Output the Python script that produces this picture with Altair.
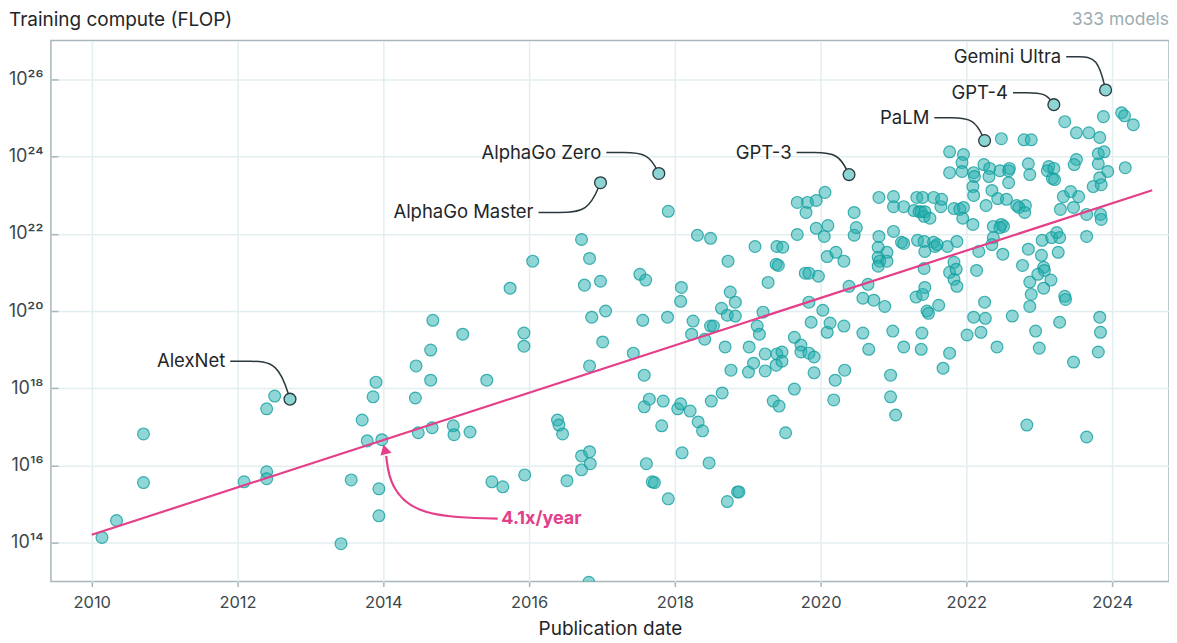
import math
import altair as alt
import pandas as pd

# ---------------- data ----------------
pub_year = [
    2010.14, 2010.34, 2010.71, 2010.71, 2012.09, 2012.40, 2012.40, 2012.40, 2012.51,
    2013.42, 2013.56, 2013.71, 2013.78, 2013.86, 2013.90, 2013.94, 2013.94, 2013.98,
    2014.45, 2014.44, 2014.48, 2014.65, 2014.65, 2014.67, 2014.68, 2014.96, 2014.97,
    2015.09, 2015.19, 2015.42, 2015.49, 2015.64, 2015.74, 2015.93, 2015.93, 2015.94,
    2016.05, 2016.39, 2016.41, 2016.46, 2016.52, 2016.72, 2016.72, 2016.72, 2016.76,
    2016.83, 2016.83, 2016.83, 2016.84, 2016.86, 2016.82, 2016.98, 2017.01, 2017.05,
    2017.43, 2017.52, 2017.56, 2017.58, 2017.58, 2017.60, 2017.61, 2017.65, 2017.69,
    2017.72, 2017.82, 2017.84, 2017.90, 2017.91, 2017.91, 2018.04, 2018.08, 2018.08,
    2018.09, 2018.10, 2018.21, 2018.23, 2018.25, 2018.31, 2018.32, 2018.38, 2018.41,
    2018.47, 2018.49, 2018.49, 2018.50, 2018.53, 2018.64, 2018.65, 2018.69, 2018.72,
    2018.72, 2018.73, 2018.76, 2018.77, 2018.83, 2018.83, 2018.86, 2018.88, 2019.01,
    2019.02, 2019.08, 2019.10, 2019.13, 2019.16, 2019.21, 2019.24, 2019.24, 2019.28,
    2019.35, 2019.39, 2019.39, 2019.40, 2019.40, 2019.43, 2019.48, 2019.42, 2019.47,
    2019.47, 2019.52, 2019.64, 2019.64, 2019.68, 2019.68, 2019.73, 2019.73, 2019.79,
    2019.82, 2019.80, 2019.84, 2019.84, 2019.84, 2019.87, 2019.91, 2019.91, 2019.94,
    2019.94, 2019.97, 2020.03, 2020.05, 2020.06, 2020.09, 2020.09, 2020.10, 2020.13,
    2020.18, 2020.20, 2020.21, 2020.32, 2020.32, 2020.33, 2020.39, 2020.46, 2020.46,
    2020.49, 2020.58, 2020.58, 2020.65, 2020.66, 2020.73, 2020.79, 2020.79, 2020.81,
    2020.79, 2020.80, 2020.80, 2020.88, 2020.91, 2020.91, 2020.96, 2020.96, 2020.99,
    2021.00, 2021.00, 2021.00, 2021.03, 2021.11, 2021.14, 2021.14, 2021.14, 2021.28,
    2021.31, 2021.32, 2021.33, 2021.35, 2021.38, 2021.38, 2021.39, 2021.40, 2021.40,
    2021.42, 2021.42, 2021.42, 2021.43, 2021.43, 2021.43, 2021.46, 2021.48, 2021.50,
    2021.55, 2021.55, 2021.57, 2021.62, 2021.65, 2021.68, 2021.74, 2021.77, 2021.77,
    2021.83, 2021.83, 2021.87, 2021.87, 2021.77, 2021.96, 2021.94, 2021.77, 2021.94,
    2022.10, 2022.11, 2022.24, 2022.32, 2022.31, 2022.46, 2022.48, 2022.58, 2022.59,
    2022.58, 2022.79, 2022.89, 2022.85, 2022.87, 2023.13, 2023.11, 2023.20, 2023.18,
    2023.21, 2023.35, 2023.51, 2023.68, 2023.83, 2023.88, 2024.13, 2024.17, 2024.29,
    2023.51, 2023.48, 2023.81, 2023.89, 2023.81, 2023.94, 2024.18, 2023.83, 2023.74,
    2023.85, 2022.09, 2022.10, 2022.35, 2022.43, 2022.55, 2022.27, 2022.69, 2022.81,
    2022.72, 2022.80, 2021.66, 2021.91, 2021.96, 2021.95, 2022.09, 2023.33, 2023.43,
    2023.54, 2023.29, 2023.47, 2023.65, 2023.84, 2023.85, 2022.37, 2022.48, 2022.51,
    2022.46, 2022.37, 2022.35, 2021.60, 2022.17, 2022.50, 2022.85, 2023.04, 2023.17,
    2023.24, 2023.28, 2023.26, 2023.03, 2023.65, 2022.77, 2023.06, 2023.07, 2022.98,
    2023.16, 2022.87, 2023.06, 2021.83, 2021.86, 2022.14, 2022.89, 2023.35, 2023.36,
    2022.25, 2022.87, 2022.10, 2022.26, 2022.63, 2022.01, 2022.20, 2022.42, 2023.28,
    2022.95, 2023.00, 2023.47, 2023.83, 2023.84, 2023.81, 2022.83, 2023.65,
]
log10_flop = [
    14.14, 14.58, 16.82, 15.56, 15.58, 15.84, 15.66, 17.47, 17.80,
    13.98, 15.63, 17.18, 16.64, 17.78, 18.16, 15.40, 14.70, 16.67,
    18.58, 17.75, 16.85, 18.99, 18.21, 16.98, 19.76, 17.03, 16.80,
    19.40, 16.87, 18.21, 15.58, 15.45, 20.59, 19.43, 19.09, 15.76,
    21.29, 17.18, 17.05, 16.82, 15.61, 21.85, 16.25, 15.89, 20.67,
    21.36, 18.58, 16.36, 16.05, 19.84, 12.98, 20.77, 19.20, 20.00,
    18.91, 20.95, 19.76, 18.34, 17.52, 20.80, 16.05, 17.72, 15.58,
    15.56, 17.03, 17.67, 19.84, 22.58, 15.14, 17.47, 17.60, 20.25,
    20.61, 16.33, 17.41, 19.40, 19.74, 21.96, 17.13, 16.90, 19.27,
    16.07, 19.61, 21.88, 17.67, 19.61, 20.07, 17.88, 19.07, 19.89,
    15.07, 21.29, 20.49, 18.47, 20.23, 19.87, 15.32, 15.32, 18.42,
    19.07, 18.65, 21.67, 19.61, 19.40, 19.97, 18.89, 18.45, 20.74,
    17.67, 21.21, 18.60, 21.67, 18.89, 17.54, 21.65, 21.18, 18.94,
    18.70, 16.85, 19.32, 17.98, 22.81, 21.98, 19.12, 18.94, 20.98,
    22.81, 22.55, 20.98, 20.23, 18.91, 19.71, 18.81, 18.40, 22.86,
    22.14, 20.90, 20.02, 21.93, 23.07, 21.41, 19.45, 22.21, 19.69,
    17.70, 18.21, 21.52, 21.29, 19.61, 18.47, 20.64, 22.55, 21.96,
    22.16, 20.33, 19.43, 20.69, 19.01, 20.28, 21.65, 21.39, 21.29,
    21.16, 21.93, 22.94, 20.12, 21.52, 21.29, 18.34, 17.78, 19.48,
    22.96, 22.70, 22.06, 17.31, 21.78, 21.75, 22.70, 19.07, 22.60,
    20.36, 22.94, 21.83, 22.57, 22.57, 19.01, 19.43, 22.94, 20.43,
    22.45, 21.80, 21.10, 22.57, 21.54, 20.61, 20.00, 19.94, 22.40,
    22.94, 21.78, 21.67, 20.15, 22.70, 18.52, 21.67, 18.91, 21.00,
    22.65, 20.82, 21.80, 20.64, 24.12, 24.05, 23.84, 23.58, 23.61,
    23.58, 23.48, 23.79, 23.69, 23.48, 23.63, 24.46, 23.63, 23.69,
    23.32, 24.43, 24.43, 23.81, 23.53, 23.74, 23.63, 23.69, 23.43,
    23.40, 24.90, 24.61, 24.61, 24.49, 25.03, 25.13, 25.05, 24.82,
    23.92, 23.79, 24.07, 24.12, 23.81, 23.61, 23.71, 23.45, 23.22,
    23.27, 23.22, 22.99, 23.12, 22.91, 22.89, 22.73, 22.73, 22.73,
    22.68, 22.55, 22.89, 22.63, 22.68, 22.40, 22.24, 22.96, 23.09,
    22.96, 22.63, 22.68, 22.50, 22.50, 22.37, 22.19, 22.24, 22.19,
    22.16, 21.90, 21.72, 21.72, 21.54, 21.47, 21.60, 21.83, 21.90,
    22.03, 21.90, 21.52, 21.44, 21.93, 21.18, 21.13, 21.05, 20.95,
    20.80, 20.75, 20.59, 21.26, 21.08, 21.05, 20.43, 20.38, 20.30,
    20.23, 20.12, 19.84, 19.81, 19.87, 19.38, 19.45, 19.07, 19.71,
    19.48, 19.04, 18.68, 19.84, 19.45, 18.94, 17.05, 16.74,
]

annot_names = ["AlexNet", "AlphaGo Master", "AlphaGo Zero", "GPT-3", "PaLM", "GPT-4", "Gemini Ultra"]
annot_year = [2012.72, 2016.98, 2017.78, 2020.39, 2022.25, 2023.20, 2023.91]
annot_log10 = [17.72, 23.32, 23.56, 23.53, 24.41, 25.34, 25.72]
label_year = [2011.90, 2016.13, 2017.06, 2019.67, 2021.56, 2022.64, 2023.37]
label_log10 = [18.70, 22.55, 24.10, 24.10, 25.00, 25.65, 26.58]

trend_years = [2010.0, 2024.55]
trend_start_log10 = 14.21
growth_per_year = 4.1
trend_label = "4.1x/year"
arrow_years = [2015.57, 2014.48, 2014.09, 2014.04]
arrow_log10 = [14.63, 14.68, 15.45, 16.25]
arrow_head_year = 2014.02
arrow_head_log10 = 16.42
trend_label_year = 2015.62
trend_label_log10 = 14.63

chart_title = "Training compute (FLOP)"
model_count_text = "333 models"
x_ticks = [2010, 2012, 2014, 2016, 2018, 2020, 2022, 2024]
y_exps = [14, 16, 18, 20, 22, 24, 26]

# ---------------- tables ----------------
pts = pd.DataFrame({"year": pub_year, "flop": [10 ** v for v in log10_flop]})
ann = pd.DataFrame({
    "name": annot_names,
    "year": annot_year,
    "flop": [10 ** v for v in annot_log10],
})
lab = pd.DataFrame({
    "name": annot_names,
    "year": label_year,
    "flop": [10 ** v for v in label_log10],
})
rows = []
for n, ly, lv, py, pv in zip(annot_names, label_year, label_log10, annot_year, annot_log10):
    d = py - ly
    ctrl = [(ly, lv), (ly + 0.3 * d, lv), (ly + 0.8 * d, lv), (py, pv)]
    for i, (a, b) in enumerate(ctrl):
        rows.append({"name": n, "i": i, "year": a, "flop": 10 ** b})
leaders = pd.DataFrame(rows)

g = math.log10(growth_per_year)
trend = pd.DataFrame({
    "year": trend_years,
    "flop": [10 ** (trend_start_log10 + g * (y - trend_years[0])) for y in trend_years],
})
arrow = pd.DataFrame({"i": list(range(len(arrow_years))), "year": arrow_years,
                      "flop": [10 ** v for v in arrow_log10]})
head = pd.DataFrame({"year": [arrow_head_year], "flop": [10 ** arrow_head_log10]})
tlab = pd.DataFrame({"year": [trend_label_year], "flop": [10 ** trend_label_log10], "t": [trend_label]})
hdr = pd.DataFrame({"t": [chart_title]})
cnt = pd.DataFrame({"t": [model_count_text]})

# ---------------- encodings ----------------
FONT = "Inter"
W, H = 1120, 542
sup = str.maketrans("0123456789", "⁰¹²³⁴⁵⁶⁷⁸⁹")
label_expr = "''"
for e in reversed(y_exps):
    label_expr = f"round(log(datum.value)/LN10)=={e} ? '10{str(e).translate(sup)}' : ({label_expr})"

x_scale = alt.Scale(domain=[2009.44, 2024.78], nice=False, zero=False)
y_scale = alt.Scale(type="log", domain=[1e13, 1e27], nice=False)
x_axis = alt.Axis(values=x_ticks, format="d", title="Publication date", domain=False,
                  tickSize=5, labelPadding=8, titlePadding=9, labelFontSize=16.5,
                  titleFontSize=19)
y_axis = alt.Axis(values=[10.0 ** e for e in y_exps], labelExpr=label_expr, title=None,
                  domain=False, offset=-7, tickSize=7, labelPadding=8, labelFontSize=18)


def X():
    return alt.X("year:Q", scale=x_scale, axis=x_axis)


def Y():
    return alt.Y("flop:Q", scale=y_scale, axis=y_axis)


TEAL_FILL = "#23aeae"
TEAL_STROKE = "#149f9f"
PINK = "#e4408a"
DARK = "#2b383d"

scatter = alt.Chart(pts).mark_circle(
    size=140, fill=TEAL_FILL, fillOpacity=0.5, stroke=TEAL_STROKE, strokeOpacity=0.8,
    strokeWidth=1.2, clip=True, opacity=1
).encode(x=X(), y=Y())

trend_line = alt.Chart(trend).mark_line(color=PINK, strokeWidth=2.2).encode(x=X(), y=Y())

leader_lines = alt.Chart(leaders).mark_line(
    color=DARK, strokeWidth=1.5, interpolate="basis"
).encode(x=X(), y=Y(), detail="name:N", order="i:Q")

hl = alt.Chart(ann).mark_circle(
    size=140, fill="#8dd4d4", fillOpacity=1, stroke=DARK, strokeWidth=1.3, opacity=1
).encode(x=X(), y=Y())

labels = alt.Chart(lab).mark_text(
    align="right", baseline="middle", dx=-5, fontSize=18.5, font=FONT, color="#1f2629"
).encode(x=X(), y=Y(), text="name:N")

arrow_line = alt.Chart(arrow).mark_line(
    color=PINK, strokeWidth=2.2, interpolate="basis"
).encode(x=X(), y=Y(), order="i:Q")

arrow_head = alt.Chart(head).mark_point(
    shape="triangle-up", filled=True, fill=PINK, color=PINK, size=130, angle=345, opacity=1
).encode(x=X(), y=Y())

trend_text = alt.Chart(tlab).mark_text(
    align="left", baseline="middle", fontSize=18, font=FONT, fontWeight="bold", color=PINK
).encode(x=X(), y=Y(), text="t:N")

title_text = alt.Chart(hdr).mark_text(
    align="left", baseline="middle", fontSize=19, font=FONT, color="#1f2629"
).encode(x=alt.value(-42), y=alt.value(-21), text="t:N")

count_text = alt.Chart(cnt).mark_text(
    align="right", baseline="middle", fontSize=17.5, font=FONT, color="#9dadb1"
).encode(x=alt.value(W), y=alt.value(-21), text="t:N")

chart = alt.layer(
    scatter, trend_line, leader_lines, hl, labels, arrow_line, arrow_head, trend_text,
    title_text, count_text
).properties(
    width=W, height=H,
    padding={"left": 0, "top": 2, "right": 0, "bottom": 0},
).configure_view(
    stroke="#a7b6ba", strokeWidth=1.5
).configure_axis(
    labelFont=FONT, titleFont=FONT, labelColor="#3b474c",
    titleColor="#1f2629", titleFontWeight="normal",
    tickColor="#a7b6ba", tickWidth=1.5, gridColor="#e3eef0", gridWidth=1.5
)

chart.save("out.html", embed_options={"renderer": "svg", "actions": False})
